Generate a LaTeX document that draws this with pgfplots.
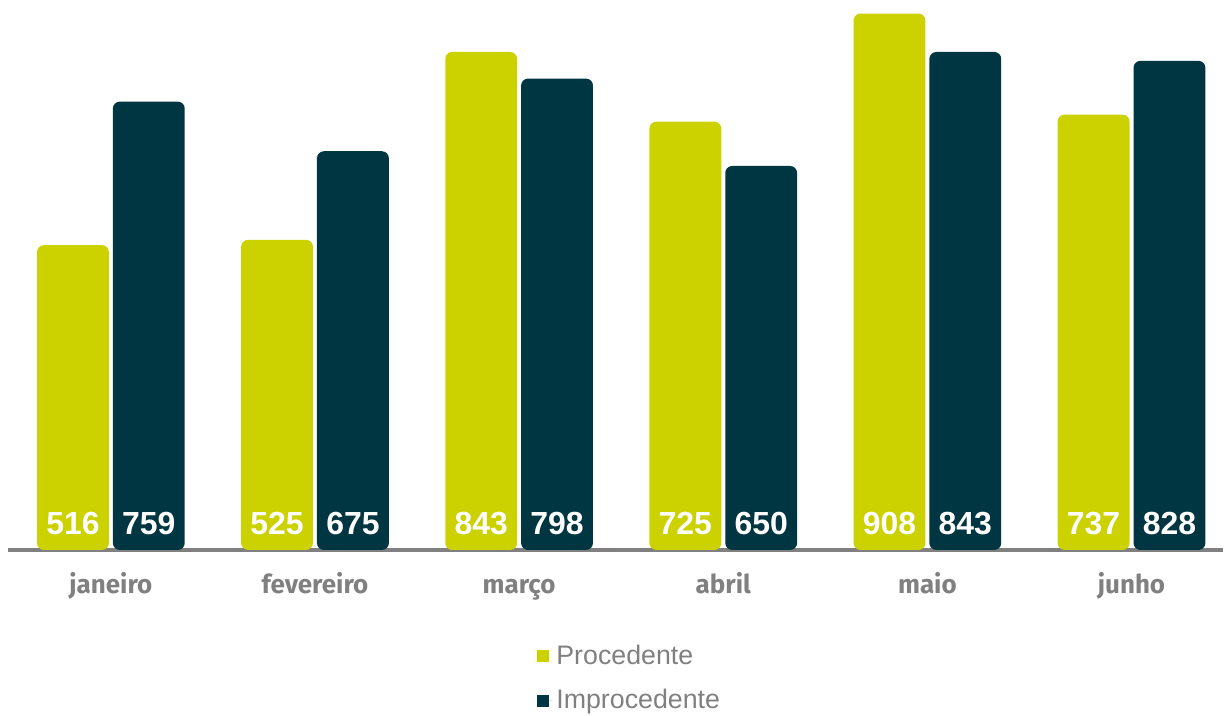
\documentclass[border=0pt]{standalone}
\usepackage{pgfplots}
\pgfplotsset{compat=1.18}
\usepackage{pgfplotstable}
\usepackage{fontspec}
\setmainfont{Liberation Sans}
\newfontfamily\catfont{Fira Sans}
\definecolor{procc}{HTML}{CCD100}
\definecolor{improcc}{HTML}{003641}
\definecolor{lab}{HTML}{808080}

\pgfplotstableread{
x v
0 516
1 525
2 843
3 725
4 908
5 737
}\tabproc
\pgfplotstableread{
x v
0 759
1 675
2 798
3 650
4 843
5 828
}\tabimproc

\begin{document}
\begin{tikzpicture}
\begin{axis}[
  scale only axis, width=608.5pt, height=275.5pt,
  xmin=-0.504, xmax=5.447, ymin=12, ymax=943,
  ybar=2pt, bar width=36pt,
  axis x line*=bottom, axis y line=none,
  x axis line style={-, draw=lab, line width=2.25pt},
  xtick={0,...,5}, xticklabels={janeiro,fevereiro,março,abril,maio,junho},
  major tick length=0pt,
  xticklabel style={font=\catfont\bfseries\fontsize{13}{15}\selectfont, text=lab, anchor=base, yshift=-22pt},
  ytick=\empty,
  /pgf/number format/assume math mode=true,
  point meta=explicit,
  nodes near coords={\pgfmathprintnumber{\pgfplotspointmeta}},
  visualization depends on={rawy \as \rawy},
  every node near coord/.append style={font=\bfseries\fontsize{16}{18}\selectfont, text=white, anchor=base, shift={(axis direction cs:0,-\rawy)}, yshift=11.5pt},
  legend style={at={(axis description cs:0.4355,-0.165)}, anchor=north west, draw=none, fill=none, font=\fontsize{13.4}{15}\selectfont, text=lab, legend cell align=left, row sep=7pt, inner sep=0pt},
  legend image code/.code={\fill[#1, sharp corners] (0pt,-3pt) rectangle (6pt,3pt); \path (0pt,0pt) -- (7.5pt,0pt);},
]
\addplot[fill=procc, draw=none, rounded corners=3.5pt] table[x=x, y expr=\thisrow{v}+12, meta=v] {\tabproc};
\addplot[fill=improcc, draw=none, rounded corners=3.5pt] table[x=x, y expr=\thisrow{v}+12, meta=v] {\tabimproc};
\legend{Procedente, Improcedente}
\end{axis}
\path ([xshift=-4pt]current axis.north west) rectangle ([yshift=-81pt]current axis.south east);
\end{tikzpicture}
\end{document}
